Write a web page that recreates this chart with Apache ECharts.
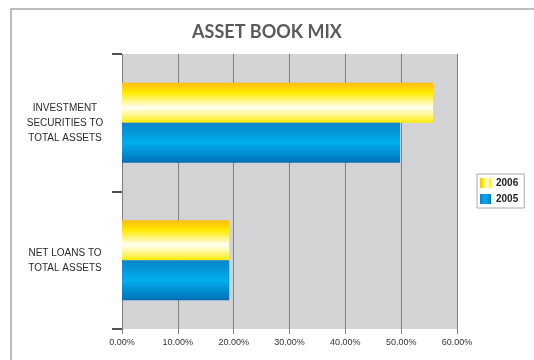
<!DOCTYPE html>
<html>
<head>
<meta charset="utf-8">
<script src="https://cdn.jsdelivr.net/npm/echarts@6/dist/echarts.min.js"></script>
<style>
  html, body { margin: 0; padding: 0; background: #ffffff; }
  #chart { width: 534px; height: 360px; }
</style>
</head>
<body>
<div id="chart"></div>
<script>
// Categories listed bottom-to-top (category y-axis starts at the bottom)
const categories = ['NET LOANS TO\nTOTAL ASSETS', 'INVESTMENT\nSECURITIES TO\nTOTAL ASSETS'];
const seriesNames = ['2006', '2005'];
const values2006 = [19.2, 55.7];
const values2005 = [19.2, 49.8];
const xTicks = { min: 0, max: 60, interval: 10 };

const gold = (horizontal) => new echarts.graphic.LinearGradient(0, 0, horizontal ? 1 : 0, horizontal ? 0 : 1, [
  { offset: 0, color: '#FFBC10' },
  { offset: 0.25, color: '#FFEA00' },
  { offset: 0.62, color: '#FFFFF4' },
  { offset: 0.85, color: '#FFF570' },
  { offset: 1, color: '#FFEA00' }
]);
const blue = (horizontal) => new echarts.graphic.LinearGradient(0, 0, horizontal ? 1 : 0, horizontal ? 0 : 1, [
  { offset: 0, color: '#0A84C9' },
  { offset: 0.5, color: '#00AEEF' },
  { offset: 1, color: '#0070B6' }
]);

const chart = echarts.init(document.getElementById('chart'), null, { renderer: 'canvas' });

chart.setOption({
  animation: false,
  backgroundColor: '#ffffff',
  title: {
    text: 'ASSET BOOK MIX',
    left: 'center',
    top: 18,
    textStyle: {
      fontFamily: 'Lato, "Open Sans", sans-serif',
      fontSize: 18,
      fontWeight: 'bold',
      color: '#5a5a5c'
    }
  },
  graphic: [{
    type: 'polyline',
    shape: { points: [[11, 360], [11, 9], [534, 9]] },
    style: { stroke: '#a8a8a8', lineWidth: 1.5, fill: null },
    silent: true
  }],
  legend: {
    orient: 'vertical',
    left: 477,
    top: 174,
    padding: [4, 6, 4, 3],
    itemWidth: 11,
    itemHeight: 10,
    itemGap: 6,
    borderColor: '#a8a8a8',
    borderWidth: 1,
    textStyle: {
      fontFamily: '"Liberation Sans", Arial, sans-serif',
      fontSize: 10,
      fontWeight: 'bold',
      color: '#222'
    },
    data: [
      { name: seriesNames[0], icon: 'rect', itemStyle: { color: gold(true) } },
      { name: seriesNames[1], icon: 'rect', itemStyle: { color: blue(true) } }
    ]
  },
  grid: {
    left: 122,
    right: 77,
    top: 54,
    bottom: 31,
    show: true,
    backgroundColor: '#D2D3D5',
    borderWidth: 0
  },
  xAxis: {
    type: 'value',
    min: xTicks.min,
    max: xTicks.max,
    interval: xTicks.interval,
    axisLine: { show: false },
    axisTick: { show: true, length: 5, lineStyle: { color: '#7f7f7f' } },
    splitLine: { show: true, lineStyle: { color: '#7f7f7f', width: 1 } },
    axisLabel: {
      margin: 9,
      fontFamily: '"Liberation Sans", Arial, sans-serif',
      fontSize: 9,
      color: '#333',
      formatter: (v) => v.toFixed(2) + '%'
    }
  },
  yAxis: {
    type: 'category',
    data: categories,
    axisLine: { show: false },
    axisTick: { show: true, length: 10, lineStyle: { color: '#1a1a1a', width: 1.5 } },
    splitLine: { show: false },
    axisLabel: {
      margin: 57,
      align: 'center',
      lineHeight: 15,
      fontFamily: '"Liberation Sans", Arial, sans-serif',
      fontSize: 10,
      color: '#2a2a2a'
    }
  },
  series: [
    {
      name: seriesNames[0],
      type: 'bar',
      data: values2006,
      barWidth: 40,
      barGap: '0%',
      itemStyle: { color: gold(false) }
    },
    {
      name: seriesNames[1],
      type: 'bar',
      data: values2005,
      barWidth: 40,
      barGap: '0%',
      itemStyle: { color: blue(false) }
    }
  ]
});
</script>
</body>
</html>
